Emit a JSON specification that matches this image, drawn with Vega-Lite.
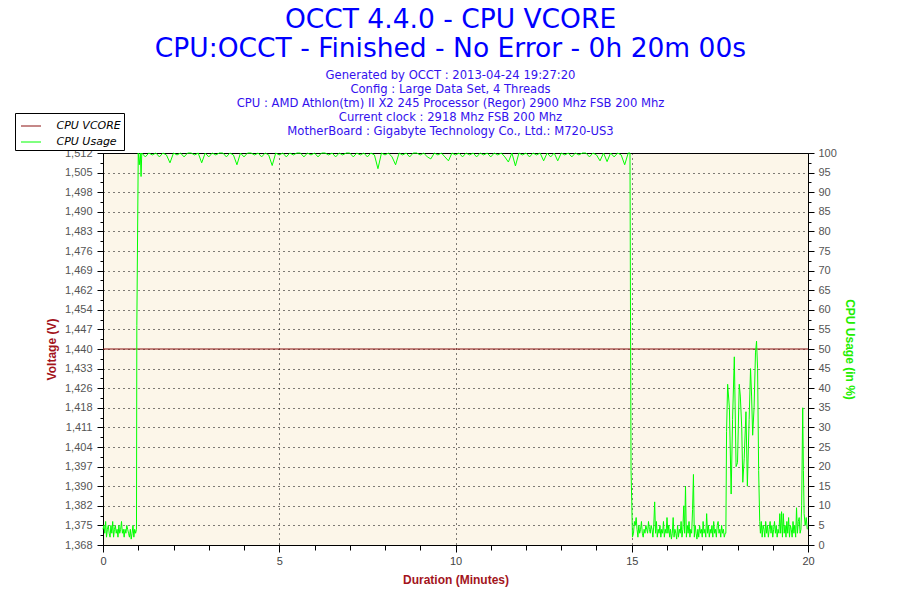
{
  "$schema": "https://vega.github.io/schema/vega-lite/v6.json",
  "width": 705,
  "height": 392,
  "autosize": {"type": "none"},
  "padding": {"left": 103, "top": 153, "right": 92, "bottom": 55},
  "background": "#ffffff",
  "title": {
    "text": ["OCCT 4.4.0 - CPU VCORE", "CPU:OCCT - Finished - No Error - 0h 20m 00s"],
    "subtitle": [
      "Generated by OCCT : 2013-04-24 19:27:20",
      "Config : Large Data Set, 4 Threads",
      "CPU : AMD Athlon(tm) II X2 245 Processor (Regor) 2900 Mhz FSB 200 Mhz",
      "Current clock : 2918 Mhz FSB 200 Mhz",
      "MotherBoard : Gigabyte Technology Co., Ltd.: M720-US3"
    ],
    "anchor": "middle",
    "frame": "group",
    "dx": -5,
    "offset": -25,
    "font": "DejaVu Sans",
    "fontSize": 26.5,
    "fontWeight": "normal",
    "color": "#0000FF",
    "lineHeight": 29,
    "subtitleFont": "DejaVu Sans",
    "subtitleFontSize": 11.6,
    "subtitleColor": "#3311EE",
    "subtitleLineHeight": 14,
    "subtitlePadding": 7
  },
  "config": {
    "view": {"fill": "#FCF6E9", "stroke": "#000000", "strokeWidth": 1},
    "axis": {"labelOverlap": false, "labelFlush": false}
  },
  "encoding": {
    "x": {
      "field": "t", "type": "quantitative",
      "scale": {"domain": [0, 20], "nice": false},
      "axis": {
        "values": [0,1,2,3,4,5,6,7,8,9,10,11,12,13,14,15,16,17,18,19,20],
        "labelExpr": "datum.value % 5 === 0 ? datum.label : ''",
        "labelOverlap": false,
        "labelFlush": false,
        "tickSize": {"condition": {"test": "datum.value % 5 === 0", "value": 7}, "value": 5},
        "tickColor": "#000000",
        "domainColor": "#000000",
        "grid": true,
        "gridColor": "#000000",
        "gridDash": [1, 4],
        "gridOpacity": {"condition": {"test": "datum.value % 5 === 0 && datum.value > 0 && datum.value < 20", "value": 1}, "value": 0},
        "labelFont": "Liberation Sans",
        "labelFontSize": 11,
        "labelColor": "#444444",
        "labelPadding": 3,
        "title": "Duration (Minutes)",
        "titleFont": "Liberation Sans",
        "titleFontSize": 12,
        "titleFontWeight": "bold",
        "titleColor": "#A3141C",
        "titlePadding": 8
      }
    }
  },
  "layer": [
    {
      "data": {"values": [
        {"t": 0, "v": 1.44}, {"t": 5, "v": 1.44}, {"t": 10, "v": 1.44},
        {"t": 15, "v": 1.44}, {"t": 20, "v": 1.44}
      ]},
      "mark": {"type": "line", "strokeWidth": 1},
      "encoding": {
        "y": {
          "field": "v", "type": "quantitative",
          "scale": {"domain": [1.368, 1.512], "nice": false, "zero": false},
          "axis": {
            "orient": "left",
            "values": [1.368, 1.3716, 1.3752, 1.3788, 1.3824, 1.386, 1.3896, 1.3932, 1.3968, 1.4004, 1.404, 1.4076, 1.4112, 1.4148, 1.4184, 1.422, 1.4256, 1.4292, 1.4328, 1.4364, 1.44, 1.4436, 1.4472, 1.4508, 1.4544, 1.458, 1.4616, 1.4652, 1.4688, 1.4724, 1.476, 1.4796, 1.4832, 1.4868, 1.4904, 1.494, 1.4976, 1.5012, 1.5048, 1.5084, 1.512],
            "labelExpr": "round((datum.value - 1.368) / 0.0036) % 2 === 0 ? replace(format(datum.value, '.3f'), '.', ',') : ''",
            "labelOverlap": false,
            "tickSize": {"condition": {"test": "round((datum.value - 1.368) / 0.0036) % 2 === 0", "value": 6}, "value": 3},
            "tickColor": "#000000",
            "domainColor": "#000000",
            "grid": true,
            "gridColor": "#000000",
            "gridDash": [1, 4],
            "gridOpacity": {"condition": {"test": "round((datum.value - 1.368) / 0.0036) % 2 === 0", "value": 1}, "value": 0},
            "labelFont": "Liberation Sans",
            "labelFontSize": 11,
            "labelColor": "#555555",
            "labelPadding": 5,
            "title": "Voltage (V)",
            "titleFont": "Liberation Sans",
            "titleFontSize": 12,
            "titleFontWeight": "bold",
            "titleColor": "#A3141C",
            "titlePadding": 6
          }
        },
        "color": {
          "datum": "CPU VCORE", "type": "nominal",
          "scale": {"domain": ["CPU VCORE", "CPU Usage"], "range": ["#8B1010", "#00FF00"]},
          "legend": {
            "orient": "none",
            "legendX": -88,
            "legendY": -40,
            "title": null,
            "strokeColor": "#000000",
            "fillColor": "#ffffff",
            "padding": 2.5,
            "symbolType": "stroke",
            "symbolSize": 400,
            "symbolOffset": 3,
            "symbolStrokeWidth": 1,
            "labelFont": "DejaVu Sans",
            "labelFontSize": 11,
            "labelFontStyle": "italic",
            "labelColor": "#000000",
            "labelOffset": 15,
            "rowPadding": -2
          }
        }
      }
    },
    {
      "data": {"values": [
        {"t": 0, "u": 4}, {"t": 0.025, "u": 5}, {"t": 0.05, "u": 3}, {"t": 0.075, "u": 6}, {"t": 0.1, "u": 2},
        {"t": 0.125, "u": 4}, {"t": 0.15, "u": 5}, {"t": 0.175, "u": 3}, {"t": 0.2, "u": 2}, {"t": 0.225, "u": 5},
        {"t": 0.25, "u": 3}, {"t": 0.275, "u": 6}, {"t": 0.3, "u": 2}, {"t": 0.325, "u": 4}, {"t": 0.35, "u": 5},
        {"t": 0.375, "u": 3}, {"t": 0.4, "u": 4}, {"t": 0.425, "u": 2}, {"t": 0.45, "u": 5}, {"t": 0.475, "u": 3},
        {"t": 0.5, "u": 4}, {"t": 0.525, "u": 6}, {"t": 0.55, "u": 3}, {"t": 0.575, "u": 4}, {"t": 0.6, "u": 2},
        {"t": 0.625, "u": 4}, {"t": 0.65, "u": 3}, {"t": 0.675, "u": 5}, {"t": 0.7, "u": 4}, {"t": 0.725, "u": 3},
        {"t": 0.75, "u": 2}, {"t": 0.775, "u": 4}, {"t": 0.8, "u": 1.5}, {"t": 0.825, "u": 3}, {"t": 0.85, "u": 5},
        {"t": 0.875, "u": 2}, {"t": 0.9, "u": 4}, {"t": 0.925, "u": 3}, {"t": 0.95, "u": 4},
        {"t": 0.96, "u": 56}, {"t": 1.0, "u": 100}, {"t": 1.03, "u": 97}, {"t": 1.06, "u": 100}, {"t": 1.08, "u": 94},
        {"t": 1.1, "u": 100}, {"t": 1.2, "u": 99}, {"t": 1.3, "u": 100}, {"t": 1.4, "u": 99.5}, {"t": 1.5, "u": 100},
        {"t": 1.6, "u": 99}, {"t": 1.7, "u": 100}, {"t": 1.8, "u": 99.5}, {"t": 1.9, "u": 97.5}, {"t": 2.0, "u": 100},
        {"t": 2.1, "u": 99.5}, {"t": 2.2, "u": 100}, {"t": 2.3, "u": 99}, {"t": 2.4, "u": 100}, {"t": 2.5, "u": 100},
        {"t": 2.6, "u": 99.5}, {"t": 2.7, "u": 100}, {"t": 2.8, "u": 97.5}, {"t": 2.9, "u": 100}, {"t": 3.0, "u": 99},
        {"t": 3.1, "u": 100}, {"t": 3.2, "u": 99.5}, {"t": 3.3, "u": 100}, {"t": 3.4, "u": 100}, {"t": 3.5, "u": 99},
        {"t": 3.6, "u": 100}, {"t": 3.7, "u": 99.5}, {"t": 3.8, "u": 97}, {"t": 3.9, "u": 100}, {"t": 4.0, "u": 99},
        {"t": 4.1, "u": 100}, {"t": 4.2, "u": 100}, {"t": 4.3, "u": 99.5}, {"t": 4.4, "u": 100}, {"t": 4.5, "u": 99},
        {"t": 4.6, "u": 100}, {"t": 4.7, "u": 99.5}, {"t": 4.8, "u": 96.8}, {"t": 4.9, "u": 100}, {"t": 5.0, "u": 99.5},
        {"t": 5.1, "u": 100}, {"t": 5.2, "u": 99}, {"t": 5.3, "u": 100}, {"t": 5.4, "u": 99.5}, {"t": 5.5, "u": 100},
        {"t": 5.6, "u": 100}, {"t": 5.7, "u": 99}, {"t": 5.8, "u": 100}, {"t": 5.9, "u": 99.5}, {"t": 6.0, "u": 100},
        {"t": 6.1, "u": 99}, {"t": 6.2, "u": 100}, {"t": 6.3, "u": 100}, {"t": 6.4, "u": 99.5}, {"t": 6.5, "u": 100},
        {"t": 6.6, "u": 99}, {"t": 6.7, "u": 100}, {"t": 6.8, "u": 99.5}, {"t": 6.9, "u": 100}, {"t": 7.0, "u": 100},
        {"t": 7.1, "u": 99}, {"t": 7.2, "u": 100}, {"t": 7.3, "u": 99.5}, {"t": 7.4, "u": 100}, {"t": 7.5, "u": 99},
        {"t": 7.6, "u": 100}, {"t": 7.7, "u": 99.5}, {"t": 7.8, "u": 96}, {"t": 7.9, "u": 100}, {"t": 8.0, "u": 99.5},
        {"t": 8.1, "u": 100}, {"t": 8.2, "u": 99}, {"t": 8.3, "u": 97}, {"t": 8.4, "u": 100}, {"t": 8.5, "u": 99.5},
        {"t": 8.6, "u": 100}, {"t": 8.7, "u": 99}, {"t": 8.8, "u": 100}, {"t": 8.9, "u": 100}, {"t": 9.0, "u": 99.5},
        {"t": 9.1, "u": 100}, {"t": 9.2, "u": 99}, {"t": 9.3, "u": 98.5}, {"t": 9.4, "u": 100}, {"t": 9.5, "u": 99.5},
        {"t": 9.6, "u": 100}, {"t": 9.7, "u": 99}, {"t": 9.8, "u": 98}, {"t": 9.9, "u": 100}, {"t": 10.0, "u": 99.5},
        {"t": 10.1, "u": 100}, {"t": 10.2, "u": 99}, {"t": 10.3, "u": 100}, {"t": 10.4, "u": 99.5}, {"t": 10.5, "u": 100},
        {"t": 10.6, "u": 99}, {"t": 10.7, "u": 100}, {"t": 10.8, "u": 99.5}, {"t": 10.9, "u": 100}, {"t": 11.0, "u": 99},
        {"t": 11.1, "u": 100}, {"t": 11.2, "u": 99.5}, {"t": 11.3, "u": 100}, {"t": 11.4, "u": 99}, {"t": 11.5, "u": 97.7},
        {"t": 11.6, "u": 100}, {"t": 11.7, "u": 96.7}, {"t": 11.8, "u": 100}, {"t": 11.9, "u": 99.5}, {"t": 12.0, "u": 100},
        {"t": 12.1, "u": 99}, {"t": 12.2, "u": 100}, {"t": 12.3, "u": 99.5}, {"t": 12.4, "u": 100}, {"t": 12.5, "u": 98},
        {"t": 12.6, "u": 100}, {"t": 12.7, "u": 99}, {"t": 12.8, "u": 100}, {"t": 12.9, "u": 98}, {"t": 13.0, "u": 100},
        {"t": 13.1, "u": 99.5}, {"t": 13.2, "u": 100}, {"t": 13.3, "u": 99}, {"t": 13.4, "u": 100}, {"t": 13.5, "u": 99.5},
        {"t": 13.6, "u": 100}, {"t": 13.7, "u": 100}, {"t": 13.8, "u": 99}, {"t": 13.9, "u": 100}, {"t": 14.0, "u": 99.5},
        {"t": 14.1, "u": 98}, {"t": 14.2, "u": 100}, {"t": 14.3, "u": 97.8}, {"t": 14.4, "u": 100}, {"t": 14.5, "u": 99},
        {"t": 14.6, "u": 100}, {"t": 14.7, "u": 99.5}, {"t": 14.8, "u": 97}, {"t": 14.9, "u": 100}, {"t": 14.95, "u": 100},
        {"t": 14.965, "u": 57}, {"t": 14.98, "u": 19}, {"t": 15.0, "u": 11}, {"t": 15.02, "u": 2},
        {"t": 15.05, "u": 3}, {"t": 15.075, "u": 6}, {"t": 15.1, "u": 5}, {"t": 15.125, "u": 7}, {"t": 15.15, "u": 4},
        {"t": 15.175, "u": 2}, {"t": 15.2, "u": 5}, {"t": 15.225, "u": 3}, {"t": 15.25, "u": 4}, {"t": 15.275, "u": 6},
        {"t": 15.3, "u": 3}, {"t": 15.325, "u": 2}, {"t": 15.35, "u": 4}, {"t": 15.375, "u": 3}, {"t": 15.4, "u": 5},
        {"t": 15.425, "u": 4}, {"t": 15.45, "u": 3}, {"t": 15.475, "u": 6}, {"t": 15.5, "u": 4}, {"t": 15.525, "u": 3},
        {"t": 15.55, "u": 5}, {"t": 15.575, "u": 4}, {"t": 15.6, "u": 2}, {"t": 15.625, "u": 5}, {"t": 15.65, "u": 11},
        {"t": 15.675, "u": 3}, {"t": 15.7, "u": 6}, {"t": 15.725, "u": 2}, {"t": 15.75, "u": 4}, {"t": 15.775, "u": 3},
        {"t": 15.8, "u": 5}, {"t": 15.825, "u": 2}, {"t": 15.85, "u": 4}, {"t": 15.875, "u": 3}, {"t": 15.9, "u": 6},
        {"t": 15.925, "u": 2}, {"t": 15.95, "u": 4}, {"t": 15.975, "u": 3}, {"t": 16.0, "u": 7}, {"t": 16.025, "u": 3},
        {"t": 16.05, "u": 5}, {"t": 16.075, "u": 2}, {"t": 16.1, "u": 4}, {"t": 16.125, "u": 1.5}, {"t": 16.15, "u": 3},
        {"t": 16.175, "u": 7}, {"t": 16.2, "u": 2}, {"t": 16.225, "u": 4}, {"t": 16.25, "u": 3}, {"t": 16.275, "u": 1.5},
        {"t": 16.3, "u": 5}, {"t": 16.325, "u": 2}, {"t": 16.35, "u": 4}, {"t": 16.375, "u": 3}, {"t": 16.4, "u": 6},
        {"t": 16.425, "u": 2}, {"t": 16.45, "u": 4}, {"t": 16.475, "u": 10}, {"t": 16.5, "u": 3}, {"t": 16.525, "u": 15},
        {"t": 16.55, "u": 2}, {"t": 16.575, "u": 5}, {"t": 16.6, "u": 3}, {"t": 16.625, "u": 6}, {"t": 16.65, "u": 2},
        {"t": 16.675, "u": 4}, {"t": 16.7, "u": 3}, {"t": 16.725, "u": 9}, {"t": 16.75, "u": 18}, {"t": 16.775, "u": 2},
        {"t": 16.8, "u": 5}, {"t": 16.825, "u": 3}, {"t": 16.85, "u": 1.5}, {"t": 16.875, "u": 4}, {"t": 16.9, "u": 2},
        {"t": 16.925, "u": 5}, {"t": 16.95, "u": 3}, {"t": 16.975, "u": 4}, {"t": 17.0, "u": 2}, {"t": 17.025, "u": 6},
        {"t": 17.05, "u": 3}, {"t": 17.075, "u": 4}, {"t": 17.1, "u": 2}, {"t": 17.125, "u": 8}, {"t": 17.15, "u": 3},
        {"t": 17.175, "u": 5}, {"t": 17.2, "u": 2}, {"t": 17.225, "u": 4}, {"t": 17.25, "u": 3}, {"t": 17.275, "u": 5},
        {"t": 17.3, "u": 2}, {"t": 17.325, "u": 6}, {"t": 17.35, "u": 3}, {"t": 17.375, "u": 4}, {"t": 17.4, "u": 2},
        {"t": 17.425, "u": 5}, {"t": 17.45, "u": 6}, {"t": 17.475, "u": 3}, {"t": 17.5, "u": 4}, {"t": 17.525, "u": 2},
        {"t": 17.55, "u": 5}, {"t": 17.575, "u": 3}, {"t": 17.6, "u": 4}, {"t": 17.625, "u": 2}, {"t": 17.65, "u": 3},
        {"t": 17.67, "u": 3}, {"t": 17.69, "u": 29}, {"t": 17.72, "u": 41}, {"t": 17.77, "u": 35}, {"t": 17.82, "u": 13},
        {"t": 17.86, "u": 32}, {"t": 17.91, "u": 48}, {"t": 17.96, "u": 20}, {"t": 18.0, "u": 21}, {"t": 18.05, "u": 41},
        {"t": 18.08, "u": 38}, {"t": 18.12, "u": 30}, {"t": 18.15, "u": 16}, {"t": 18.19, "u": 22}, {"t": 18.24, "u": 34},
        {"t": 18.28, "u": 15}, {"t": 18.33, "u": 32}, {"t": 18.37, "u": 45}, {"t": 18.4, "u": 38}, {"t": 18.43, "u": 28},
        {"t": 18.47, "u": 35}, {"t": 18.51, "u": 49}, {"t": 18.54, "u": 52}, {"t": 18.57, "u": 45}, {"t": 18.6, "u": 19},
        {"t": 18.63, "u": 6}, {"t": 18.65, "u": 3}, {"t": 18.675, "u": 6}, {"t": 18.7, "u": 2}, {"t": 18.725, "u": 5},
        {"t": 18.75, "u": 4}, {"t": 18.775, "u": 2}, {"t": 18.8, "u": 6}, {"t": 18.825, "u": 3}, {"t": 18.85, "u": 5},
        {"t": 18.875, "u": 2}, {"t": 18.9, "u": 4}, {"t": 18.925, "u": 6}, {"t": 18.95, "u": 3}, {"t": 18.975, "u": 5},
        {"t": 19.0, "u": 2}, {"t": 19.025, "u": 4}, {"t": 19.05, "u": 6}, {"t": 19.075, "u": 3}, {"t": 19.1, "u": 5},
        {"t": 19.125, "u": 2}, {"t": 19.15, "u": 4}, {"t": 19.175, "u": 3}, {"t": 19.2, "u": 8}, {"t": 19.225, "u": 3},
        {"t": 19.25, "u": 8.5}, {"t": 19.275, "u": 2}, {"t": 19.3, "u": 8}, {"t": 19.325, "u": 3}, {"t": 19.35, "u": 5},
        {"t": 19.375, "u": 2}, {"t": 19.4, "u": 6}, {"t": 19.425, "u": 3}, {"t": 19.45, "u": 7}, {"t": 19.475, "u": 2},
        {"t": 19.5, "u": 5}, {"t": 19.525, "u": 4}, {"t": 19.55, "u": 2}, {"t": 19.575, "u": 6}, {"t": 19.6, "u": 3},
        {"t": 19.625, "u": 5}, {"t": 19.65, "u": 2}, {"t": 19.675, "u": 9.5}, {"t": 19.7, "u": 3}, {"t": 19.725, "u": 6},
        {"t": 19.75, "u": 7}, {"t": 19.775, "u": 3}, {"t": 19.8, "u": 4}, {"t": 19.82, "u": 10}, {"t": 19.85, "u": 35},
        {"t": 19.87, "u": 19}, {"t": 19.89, "u": 8}, {"t": 19.92, "u": 5}, {"t": 19.95, "u": 7}, {"t": 19.98, "u": 4}
      ]},
      "mark": {"type": "line", "strokeWidth": 1},
      "encoding": {
        "y": {
          "field": "u", "type": "quantitative",
          "scale": {"domain": [0, 100], "nice": false},
          "axis": {
            "orient": "right",
            "values": [0, 2.5, 5, 7.5, 10, 12.5, 15, 17.5, 20, 22.5, 25, 27.5, 30, 32.5, 35, 37.5, 40, 42.5, 45, 47.5, 50, 52.5, 55, 57.5, 60, 62.5, 65, 67.5, 70, 72.5, 75, 77.5, 80, 82.5, 85, 87.5, 90, 92.5, 95, 97.5, 100],
            "labelExpr": "datum.value % 5 === 0 ? datum.label : ''",
            "labelOverlap": false,
            "tickSize": {"condition": {"test": "datum.value % 5 === 0", "value": 6}, "value": 3},
            "tickColor": "#000000",
            "domainColor": "#000000",
            "grid": false,
            "labelFont": "Liberation Sans",
            "labelFontSize": 11,
            "labelColor": "#555555",
            "labelPadding": 4,
            "title": "CPU Usage (in %)",
            "titleFont": "Liberation Sans",
            "titleFontSize": 12,
            "titleFontWeight": "bold",
            "titleColor": "#22EE00",
            "titlePadding": 6
          }
        },
        "color": {"datum": "CPU Usage", "type": "nominal"}
      }
    }
  ],
  "resolve": {"scale": {"y": "independent"}}
}
